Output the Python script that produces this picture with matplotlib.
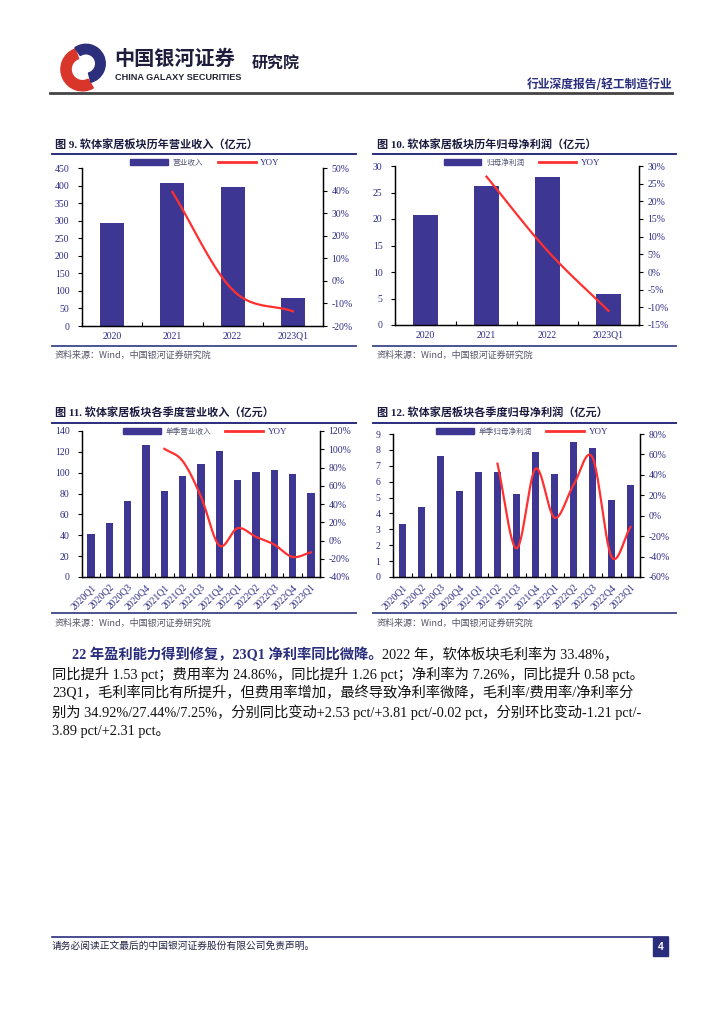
import matplotlib
matplotlib.use('Agg')
import matplotlib.pyplot as plt
import numpy as np
from matplotlib.patches import Rectangle, Wedge
from matplotlib.lines import Line2D

# Data ###############################################
years = ['2020', '2021', '2022', '2023Q1']
rev_year = [292, 407, 396, 80]
rev_year_yoy = [None, 39.4, -4.0, -13.5]
np_year = [20.7, 26.3, 27.9, 5.8]
np_year_yoy = [None, 27.0, 6.0, -11.0]

quarters = ['2020Q1', '2020Q2', '2020Q3', '2020Q4', '2021Q1', '2021Q2', '2021Q3',
            '2021Q4', '2022Q1', '2022Q2', '2022Q3', '2022Q4', '2023Q1']
rev_q = [41, 52, 73, 127, 82, 97, 108, 121, 93, 101, 103, 99, 81]
rev_q_yoy = [None, None, None, None, 100.5, 87.0, 48.0, -5.5, 13.5, 4.0, -4.5, -18.0, -13.0]
np_q = [3.35, 4.4, 7.6, 5.4, 6.6, 6.6, 5.2, 7.85, 6.5, 8.5, 8.15, 4.85, 5.8]
np_q_yoy = [None, None, None, None, None, 51.0, -32.0, 46.0, -2.0, 30.0, 57.0, -40.0, -11.0]

W, H = 724, 1024
NAVY = '#2A2D7C'
BAR = '#3D3693'
RED = '#FF3030'
TXT = '#2B2B86'
SERIF_CJK = ['Liberation Serif', 'Noto Sans CJK SC']
CJK = ['Noto Sans CJK SC', 'DejaVu Sans']

plt.rcParams['font.family'] = SERIF_CJK
plt.rcParams['axes.unicode_minus'] = False

fig = plt.figure(figsize=(W / 100, H / 100), dpi=100)
fig.patch.set_facecolor('white')


def fx(x):
    return x / W


def fy(y):
    return 1 - y / H


def rect(x0, y0, x1, y1):
    return [fx(x0), fy(y1), (x1 - x0) / W, (y1 - y0) / H]


def hline(x0, x1, y, color=NAVY, lw=1.5):
    fig.add_artist(Line2D([fx(x0), fx(x1)], [fy(y), fy(y)], color=color, lw=lw,
                          transform=fig.transFigure))


def smooth(xs, ys, n=30):
    # Catmull-Rom curve through the points, like Excel's smoothed line
    xs = np.asarray(xs, float)
    ys = np.asarray(ys, float)
    if len(xs) < 3:
        return xs, ys
    px = np.concatenate([[2 * xs[0] - xs[1]], xs, [2 * xs[-1] - xs[-2]]])
    py = np.concatenate([[2 * ys[0] - ys[1]], ys, [2 * ys[-1] - ys[-2]]])
    ox, oy = [], []
    t = np.linspace(0, 1, n)
    for i in range(1, len(px) - 2):
        for p, out in ((px, ox), (py, oy)):
            p0, p1, p2, p3 = p[i - 1], p[i], p[i + 1], p[i + 2]
            out.extend(0.5 * ((2 * p1) + (-p0 + p2) * t +
                              (2 * p0 - 5 * p1 + 4 * p2 - p3) * t ** 2 +
                              (-p0 + 3 * p1 - 3 * p2 + p3) * t ** 3))
    return np.array(ox), np.array(oy)


def draw_chart(box, cats, bars, yoy, ylim, ystep, y2lim, y2step, bar_name,
               legend_xy, rotate=False):
    ax = fig.add_axes(rect(*box))
    x = np.arange(len(cats))
    ax.bar(x, bars, width=0.4, color=BAR, zorder=2)
    ax.set_xlim(-0.5, len(cats) - 0.5)
    ax.set_ylim(*ylim)
    ax.set_yticks(np.arange(ylim[0], ylim[1] + ystep / 2, ystep))
    ax.set_xticks(np.arange(len(cats) + 1) - 0.5)
    ax.set_xticklabels([])
    ax.set_xticks(x, minor=True)
    ax.set_xticklabels(cats, minor=True, fontsize=7,
                       color=TXT, rotation=45 if rotate else 0,
                       ha='right' if rotate else 'center',
                       rotation_mode='anchor')
    ax.tick_params(axis='x', which='major', direction='in', length=3, color='black')
    ax.tick_params(axis='x', which='minor', length=0, pad=4)
    ax.tick_params(axis='y', direction='out', length=3, labelsize=7,
                   labelcolor=TXT, pad=6)
    ax.spines['top'].set_visible(False)

    ax2 = ax.twinx()
    ax2.set_ylim(*y2lim)
    ticks2 = np.arange(y2lim[0], y2lim[1] + y2step / 2, y2step)
    ax2.set_yticks(ticks2)
    ax2.set_yticklabels([f'{int(v)}%' for v in ticks2])
    ax2.tick_params(axis='y', direction='out', length=3, labelsize=7,
                    labelcolor=TXT, pad=3)
    ax2.spines['top'].set_visible(False)
    xi = [i for i, v in enumerate(yoy) if v is not None]
    yi = [v for v in yoy if v is not None]
    sx, sy = smooth(xi, yi)
    ax2.plot(sx, sy, color=RED, lw=1.6, zorder=3)
    for a in (ax, ax2):
        for s in ('left', 'right', 'bottom'):
            a.spines[s].set_linewidth(0.9)

    handles = [Rectangle((0, 0), 1, 1, color=BAR),
               Line2D([0], [0], color=RED, lw=2)]
    leg = ax.legend(handles, [bar_name, 'YOY'], loc='center', ncol=2,
                    bbox_to_anchor=(fx(legend_xy[0]), fy(legend_xy[1])),
                    bbox_transform=fig.transFigure, frameon=False,
                    fontsize=6.5, handlelength=4.2, handleheight=0.55,
                    columnspacing=1.6, handletextpad=0.5, borderpad=0)
    for t in leg.get_texts():
        t.set_color('#555577' if t.get_text() != 'YOY' else TXT)
    leg.get_texts()[0].set_fontfamily(CJK)
    leg.get_texts()[0].set_fontsize(5.5)
    return ax


def panel_text(x, y_title, y_line_top, y_line_bot, y_src, x0, x1, title):
    fig.text(fx(x), fy(y_title), title, fontsize=8, fontweight='bold',
             color='#1B1B40', va='center', family=SERIF_CJK)
    hline(x0, x1, y_line_top, lw=1.4)
    hline(x0, x1, y_line_bot, lw=1.4, color='#4A5590')
    fig.text(fx(x), fy(y_src), '资料来源：Wind，中国银河证券研究院', fontsize=6.5,
             color='#555566', va='center', family=CJK, style='italic')


# Header ###############################################
logo = fig.add_axes(rect(55, 42, 110, 92))
logo.set_xlim(-1.1, 1.1)
logo.set_ylim(-1.1, 1.1)
logo.set_aspect('equal')
logo.axis('off')
logo.add_patch(Wedge((0.0, -0.1), 0.95, 110, 300, width=0.45, color='#D8362B'))
logo.add_patch(Wedge((0.15, 0.15), 0.85, -75, 125, width=0.42, color='#2C2F7C'))

fig.text(fx(114), fy(58), '中国银河证券', fontsize=14.5, fontweight='bold',
         color='#1E1E3C', va='center', family=CJK)
fig.text(fx(115), fy(77), 'CHINA GALAXY SECURITIES', fontsize=6.6,
         fontweight='bold', color='#222233', va='center', family=['Liberation Sans'])
fig.text(fx(252), fy(64), '研究院', fontsize=11.5, fontweight='bold',
         color='#1E1E3C', va='center', family=CJK)
fig.text(fx(672), fy(84), '行业深度报告/轻工制造行业', fontsize=8.5,
         fontweight='bold', color=NAVY, ha='right', va='center', family=CJK)
hline(50, 672, 93, color='#444444', lw=2)

# Charts ###############################################
panel_text(55, 145, 154, 346, 355, 52, 356, '图 9. 软体家居板块历年营业收入（亿元）')
draw_chart((82, 168, 323, 326), years, rev_year, rev_year_yoy, (0, 450), 50,
           (-20, 50), 10, '营业收入', (205, 163))

panel_text(377, 145, 154, 346, 355, 373, 676, '图 10. 软体家居板块历年归母净利润（亿元）')
draw_chart((395, 166, 639, 325), years, np_year, np_year_yoy, (0, 30), 5,
           (-15, 30), 5, '归母净利润', (522, 163))

panel_text(55, 413, 423, 613, 623, 52, 356, '图 11. 软体家居板块各季度营业收入（亿元）')
draw_chart((82, 431, 320, 577), quarters, rev_q, rev_q_yoy, (0, 140), 20,
           (-40, 120), 20, '单季营业收入', (205, 432), rotate=True)

panel_text(377, 413, 423, 613, 623, 373, 676, '图 12. 软体家居板块各季度归母净利润（亿元）')
draw_chart((393, 434, 640, 577), quarters, np_q, np_q_yoy, (0, 9), 1,
           (-60, 80), 20, '单季归母净利润', (522, 432), rotate=True)

# Body text ############################################
body_size = 10.3
bold_txt = fig.text(fx(72), fy(655), '22 年盈利能力得到修复，23Q1 净利率同比微降。',
                    fontsize=body_size, fontweight='bold', color=NAVY,
                    va='center', family=SERIF_CJK)
fig.canvas.draw()
bb = bold_txt.get_window_extent(renderer=fig.canvas.get_renderer())
fig.text(bb.x1 / W, fy(655), '2022 年，软体板块毛利率为 33.48%，',
         fontsize=body_size, color='#111111', va='center', family=SERIF_CJK)
body_lines = [
    '同比提升 1.53 pct；费用率为 24.86%，同比提升 1.26 pct；净利率为 7.26%，同比提升 0.58 pct。',
    '23Q1，毛利率同比有所提升，但费用率增加，最终导致净利率微降，毛利率/费用率/净利率分',
    '别为 34.92%/27.44%/7.25%，分别同比变动+2.53 pct/+3.81 pct/-0.02 pct，分别环比变动-1.21 pct/-',
    '3.89 pct/+2.31 pct。',
]
for i, line in enumerate(body_lines):
    fig.text(fx(52), fy(674 + 19 * i), line, fontsize=body_size, color='#111111',
             va='center', family=SERIF_CJK)

# Footer ###############################################
hline(52, 668, 937, color=NAVY, lw=1.2)
fig.text(fx(52), fy(946), '请务必阅读正文最后的中国银河证券股份有限公司免责声明。',
         fontsize=7, color='#222244', va='center', family=CJK)
fig.add_artist(Rectangle((fx(653), fy(956)), 15 / W, 19 / H, color=NAVY,
                         transform=fig.transFigure))
fig.text(fx(660.5), fy(946.5), '4', fontsize=7.5, fontweight='bold', color='white',
         ha='center', va='center', family=['Liberation Sans'])

fig.savefig('out.png', dpi=100, facecolor='white')
